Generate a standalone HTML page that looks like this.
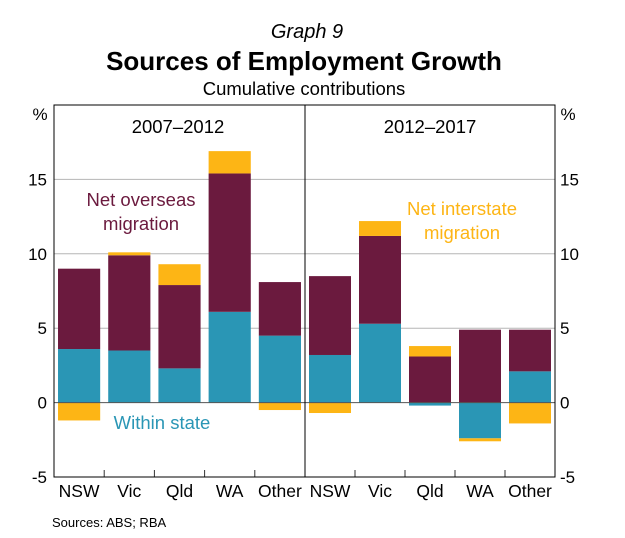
<!DOCTYPE html>
<html><head><meta charset="utf-8"><style>
body{margin:0;background:#fff;}
svg text{font-family:"Liberation Sans",Arial,sans-serif;}
</style></head><body>
<svg id="chart" width="625" height="533" viewBox="0 0 625 533">
<text x="307" y="38" text-anchor="middle" font-size="20" font-style="italic">Graph 9</text>
<text x="304" y="70" text-anchor="middle" font-size="26" font-weight="bold">Sources of Employment Growth</text>
<text x="304" y="95" text-anchor="middle" font-size="18.5">Cumulative contributions</text>
<g id="grid"></g>
<g id="bars"></g>
<g id="frame"></g>
<text x="178" y="133" text-anchor="middle" font-size="18.5">2007–2012</text>
<text x="430" y="133" text-anchor="middle" font-size="18.5">2012–2017</text>
<text x="40" y="120" text-anchor="middle" font-size="17">%</text>
<text x="568" y="120" text-anchor="middle" font-size="17">%</text>
<text x="141" y="206" text-anchor="middle" font-size="18.5" fill="#6b1a3e">Net overseas</text>
<text x="141" y="230" text-anchor="middle" font-size="18.5" fill="#6b1a3e">migration</text>
<text x="462" y="215" text-anchor="middle" font-size="18.5" fill="#fdb515">Net interstate</text>
<text x="462" y="239" text-anchor="middle" font-size="18.5" fill="#fdb515">migration</text>
<text x="162" y="429" text-anchor="middle" font-size="18.5" fill="#2a96b5">Within state</text>
<text x="52" y="527" font-size="13">Sources:   ABS; RBA</text>
</svg>
<script>
const categories = ["NSW","Vic","Qld","WA","Other"];
const panels = ["2007–2012","2012–2017"];
const withinState = [[3.6,3.5,2.3,6.1,4.5],[3.2,5.3,-0.2,-2.4,2.1]];
const netOverseas = [[5.4,6.4,5.6,9.3,3.6],[5.3,5.9,3.1,4.9,2.8]];
const netInterstate = [[-1.2,0.2,1.4,1.5,-0.5],[-0.7,1.0,0.7,-0.2,-1.4]];
const yTicks = [-5,0,5,10,15];
const yMin=-5, yMax=20;
const plotL=54, plotR=555, plotT=105, plotB=477, divX=305;
const colors={within:"#2a96b5",overseas:"#6b1a3e",interstate:"#fdb515"};
const NS="http://www.w3.org/2000/svg";
function y(v){return plotB-(v-yMin)/(yMax-yMin)*(plotB-plotT);}
function panelX(p){return p===0?[plotL,divX]:[divX,plotR];}
function mk(tag,attrs,parent){const e=document.createElementNS(NS,tag);for(const k in attrs)e.setAttribute(k,attrs[k]);parent.appendChild(e);return e;}
const grid=document.getElementById('grid'),bars=document.getElementById('bars'),frame=document.getElementById('frame'),svg=document.getElementById('chart');
yTicks.forEach(t=>{
  if(t!==0&&t!==yMin){const l=mk('line',{x1:plotL,x2:plotR,y1:y(t),y2:y(t),stroke:'#b5b5b5','stroke-width':1},grid);
  
  }
  const a=mk('text',{x:47,y:y(t)+6,'text-anchor':'end','font-size':17},svg);a.textContent=t;
  
  
  const b=mk('text',{x:560,y:y(t)+6,'text-anchor':'start','font-size':17},svg);b.textContent=t;
  
  
});
const series=[["within",withinState],["overseas",netOverseas],["interstate",netInterstate]];
for(let p=0;p<2;p++){
  const [x0,x1]=panelX(p);const slot=(x1-x0)/categories.length;const bw=slot*0.84;
  categories.forEach((c,i)=>{
    let pos=0,neg=0;const bx=x0+slot*i+(slot-bw)/2;
    series.forEach(([name,arr])=>{
      const v=arr[p][i];let a,b;
      if(v>=0){a=pos;b=pos+v;pos=b;}else{a=neg;b=neg+v;neg=b;}
      const r=mk('rect',{x:bx,y:y(Math.max(a,b)),width:bw,height:Math.abs(y(a)-y(b)),fill:colors[name]},bars);
      
      
    });
    const t=mk('text',{x:x0+slot*i+slot/2,y:497,'text-anchor':'middle','font-size':17.5},svg);t.textContent=c;
    
    
    if(i>0){const tk=mk('line',{x1:x0+slot*i,x2:x0+slot*i,y1:plotB,y2:plotB-7,stroke:'#333','stroke-width':1},frame);
    
    }
  });
}
const z=mk('line',{x1:plotL,x2:plotR,y1:y(0),y2:y(0),stroke:'#555','stroke-width':1},frame);


const box=mk('rect',{x:plotL,y:plotT,width:plotR-plotL,height:plotB-plotT,fill:'none',stroke:'#000','stroke-width':1},frame);


const dv=mk('line',{x1:divX,x2:divX,y1:plotT,y2:plotB,stroke:'#000','stroke-width':1},frame);


</script>
</body></html>
